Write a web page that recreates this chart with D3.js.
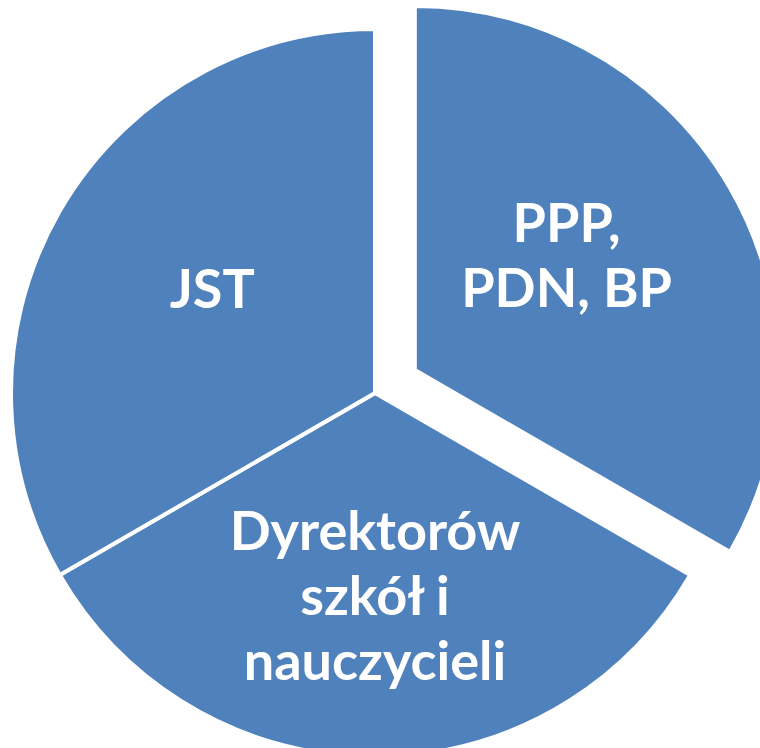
<!DOCTYPE html>
<html>
<meta charset="UTF-8">

<head>
  <script src="https://cdn.jsdelivr.net/npm/d3@7/dist/d3.min.js"></script>
  <style>
    body { margin: 0; background: #fff; }
  </style>
</head>

<body>
  <div id="viz">
    <svg style="width:760px;height:748px;"></svg>
  </div>

  <script type="text/javascript">
    // slices, clockwise from 12 o'clock
    const categories = [
      ["PPP,", "PDN, BP"],
      ["Dyrektorów", "szkół i", "nauczycieli"],
      ["JST"]
    ]
    const values = [1, 1, 1]
    const explodedIndex = 0

    const cx = 375, cy = 393
    const radius = 364
    const explodeBy = 46
    const labelRadius = 196
    const lineHeight = 65
    // small manual label shifts, like dragged labels in the original
    const labelNudge = [[-18, -17], [0, 7], [7, -6]]

    const pieData = d3.pie()
      .sort(null)
      .value(d => d)(values)

    const arc = d3.arc()
      .innerRadius(0)
      .outerRadius(radius)

    const labelArc = d3.arc()
      .innerRadius(labelRadius)
      .outerRadius(labelRadius)

    const offset = (d, i) => {
      if (i !== explodedIndex) return [0, 0]
      const a = (d.startAngle + d.endAngle) / 2
      return [Math.sin(a) * explodeBy, -Math.cos(a) * explodeBy]
    }

    const slices = d3.select("svg")
      .append("g")
      .attr("transform", `translate(${cx},${cy})`)
      .selectAll("g")
      .data(pieData)
      .enter()
      .append("g")
      .attr("class", "slice")
      .attr("transform", (d, i) => `translate(${offset(d, i)})`)

    slices.append("path")
      .attr("d", arc)
      .style("fill", "#4f81bd")
      .style("stroke", "white")
      .style("stroke-width", "4px")
      .style("stroke-linejoin", "miter")

    slices.append("text")
      .attr("transform", (d, i) => {
        const [x, y] = labelArc.centroid(d)
        return `translate(${x + labelNudge[i][0]},${y + labelNudge[i][1]})`
      })
      .style("text-anchor", "middle")
      .style("fill", "white")
      .style("font-family", "Lato, 'Open Sans', sans-serif")
      .style("font-weight", "bold")
      .style("font-size", "54px")
      .each(function (d, i) {
        const lines = categories[i]
        const top = -(lines.length - 1) * lineHeight / 2
        d3.select(this)
          .selectAll("tspan")
          .data(lines)
          .enter()
          .append("tspan")
          .attr("x", 0)
          .attr("y", (l, j) => top + j * lineHeight)
          .attr("dy", "0.36em")
          .text(l => l)
      })

  </script>
</body>

</html>
